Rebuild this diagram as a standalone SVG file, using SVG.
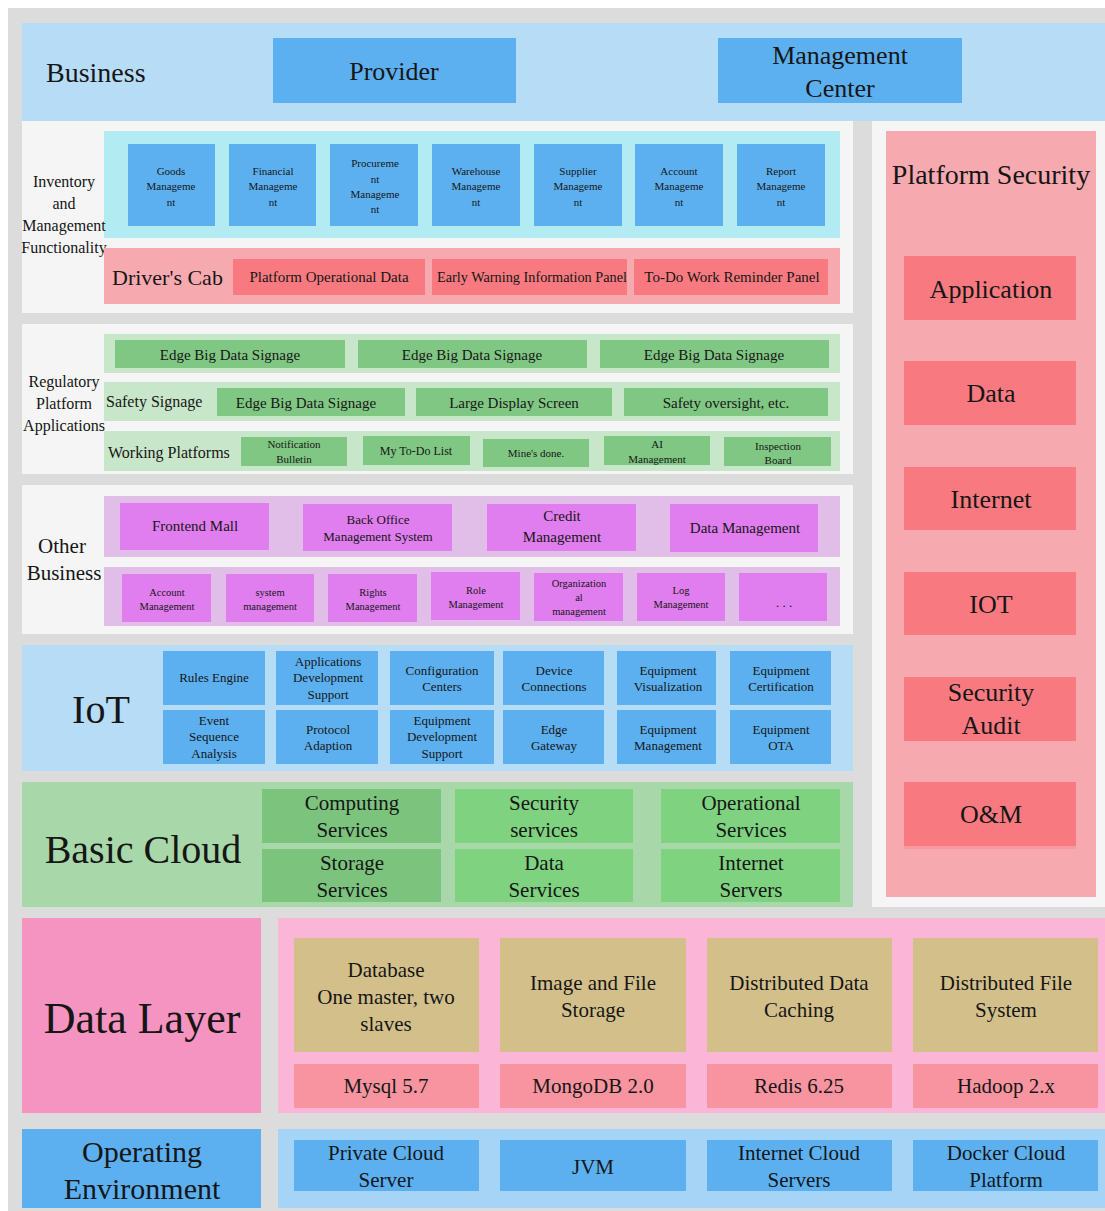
<svg xmlns="http://www.w3.org/2000/svg" width="1105" height="1211" viewBox="0 0 1105 1211" font-family="Liberation Serif, serif">
<style>
text{fill:#161616;}
.c{text-anchor:middle;}
.bg{fill:#dcdcdc;}
.lb{fill:#b6dcf6;}
.bb{fill:#5cb0f0;}
.wp{fill:#f5f5f5;}
.cy{fill:#b2ebf2;}
.pkb{fill:#f7a9b0;}
.pk{fill:#f87a80;}
.gl{fill:#c8e6c9;}
.gb{fill:#81c784;}
.pl{fill:#e1bee7;}
.pm{fill:#e07ef0;}
.cg{fill:#a8d8a9;}
.cd{fill:#7cc47e;}
.cb{fill:#7fd380;}
.dl{fill:#f594c0;}
.dr{fill:#fbb6d7;}
.tan{fill:#d3bf8a;}
.dp{fill:#f8949f;}
.ob{fill:#a6d4f7;}
.s10{font-size:10.5px;}
.s11{font-size:11px;}
.s12{font-size:12px;}
.s13{font-size:13px;}
.s15{font-size:15px;}
.s16{font-size:16px;}
.s21{font-size:21px;}
.s22{font-size:22px;}
.s26{font-size:26px;}
</style>
<rect x="8" y="8" width="1097" height="1203" class="bg"/>

<g id="business">
<rect x="22" y="23" width="1083" height="98" class="lb"/>
<text x="46" y="82" font-family="Liberation Serif, serif" style="font-size:28px">Business</text>
</g>
<g id="provider">
<rect x="273" y="38" width="243" height="65" class="bb"/>
<text x="394" y="80" class="c s26">Provider</text>
</g>
<g id="management-center">
<rect x="718" y="38" width="244" height="65" class="bb"/>
<text x="840" y="64" class="c s26">Management</text>
<text x="840" y="97" class="c s26">Center</text>
</g>

<g id="inventory">
<rect x="22" y="121" width="831" height="192" class="wp"/>
<rect x="104" y="131" width="736" height="107" class="cy"/>
<text class="c s16" x="64" y="187">Inventory</text>
<text class="c s16" x="64" y="209">and</text>
<text class="c s16" x="64" y="231">Management</text>
<text class="c s16" x="64" y="253">Functionality</text>
</g>
<g id="goods"><rect x="128" y="144" width="87" height="82" class="bb"/>
<text class="c s11" x="171" y="175">Goods</text><text class="c s11" x="171" y="190">Manageme</text><text class="c s11" x="171" y="206">nt</text></g>
<g id="financial"><rect x="229" y="144" width="87" height="82" class="bb"/>
<text class="c s11" x="273" y="175">Financial</text><text class="c s11" x="273" y="190">Manageme</text><text class="c s11" x="273" y="206">nt</text></g>
<g id="procurement"><rect x="330" y="144" width="88" height="82" class="bb"/>
<text class="c s11" x="375" y="167">Procureme</text><text class="c s11" x="375" y="183">nt</text><text class="c s11" x="375" y="198">Manageme</text><text class="c s11" x="375" y="213">nt</text></g>
<g id="warehouse"><rect x="432" y="144" width="88" height="82" class="bb"/>
<text class="c s11" x="476" y="175">Warehouse</text><text class="c s11" x="476" y="190">Manageme</text><text class="c s11" x="476" y="206">nt</text></g>
<g id="supplier"><rect x="534" y="144" width="88" height="82" class="bb"/>
<text class="c s11" x="578" y="175">Supplier</text><text class="c s11" x="578" y="190">Manageme</text><text class="c s11" x="578" y="206">nt</text></g>
<g id="account-mgmt"><rect x="635" y="144" width="88" height="82" class="bb"/>
<text class="c s11" x="679" y="175">Account</text><text class="c s11" x="679" y="190">Manageme</text><text class="c s11" x="679" y="206">nt</text></g>
<g id="report"><rect x="737" y="144" width="88" height="82" class="bb"/>
<text class="c s11" x="781" y="175">Report</text><text class="c s11" x="781" y="190">Manageme</text><text class="c s11" x="781" y="206">nt</text></g>

<g id="drivers-cab">
<rect x="104" y="248" width="736" height="56" class="pkb"/>
<text x="112" y="285" class="s22">Driver's Cab</text>
</g>
<g id="platform-operational-data"><rect x="233" y="259" width="192" height="36" class="pk"/>
<text class="c s15" x="329" y="282">Platform Operational Data</text></g>
<g id="early-warning"><rect x="432" y="259" width="195" height="36" class="pk"/>
<text class="c s15" x="532" y="282" textLength="190" lengthAdjust="spacingAndGlyphs">Early Warning Information Panel</text></g>
<g id="todo-panel"><rect x="634" y="259" width="194" height="36" class="pk"/>
<text class="c s15" x="732" y="282">To-Do Work Reminder Panel</text></g>

<g id="platform-security">
<rect x="872" y="121" width="233" height="786" class="wp"/>
<rect x="886" y="131" width="210" height="766" class="pkb"/>
<text class="c" x="991" y="184" style="font-size:28px">Platform Security</text>
</g>
<g id="sec-application"><rect x="904" y="256" width="172" height="64" class="pk"/><text class="c s26" x="991" y="298">Application</text></g>
<g id="sec-data"><rect x="904" y="361" width="172" height="64" class="pk"/><text class="c s26" x="991" y="402">Data</text></g>
<g id="sec-internet"><rect x="904" y="467" width="172" height="63" class="pk"/><text class="c s26" x="991" y="508">Internet</text></g>
<g id="sec-iot"><rect x="904" y="572" width="172" height="63" class="pk"/><text class="c s26" x="991" y="613">IOT</text></g>
<g id="sec-audit"><rect x="904" y="677" width="172" height="64" class="pk"/><text class="c s26" x="991" y="701">Security</text><text class="c s26" x="991" y="734">Audit</text></g>
<g id="sec-om"><rect x="904" y="782" width="172" height="64" class="pk"/><rect x="904" y="846" width="172" height="3" fill="#f49aa0"/><text class="c s26" x="991" y="823">O&amp;M</text></g>

<g id="regulatory">
<rect x="22" y="324" width="831" height="150" class="wp"/>
<rect x="104" y="334" width="736" height="39" class="gl"/>
<rect x="104" y="382" width="736" height="39" class="gl"/>
<rect x="104" y="431" width="736" height="40" class="gl"/>
<text class="c s16" x="64" y="387">Regulatory</text>
<text class="c s16" x="64" y="409">Platform</text>
<text class="c s16" x="64" y="431">Applications</text>
<text class="s16" x="106" y="407">Safety Signage</text>
<text class="s16" x="108" y="458">Working Platforms</text>
</g>
<g id="edge1"><rect x="115" y="340" width="230" height="28" class="gb"/><text class="c s15" x="230" y="360">Edge Big Data Signage</text></g>
<g id="edge2"><rect x="358" y="340" width="229" height="28" class="gb"/><text class="c s15" x="472" y="360">Edge Big Data Signage</text></g>
<g id="edge3"><rect x="600" y="340" width="229" height="28" class="gb"/><text class="c s15" x="714" y="360">Edge Big Data Signage</text></g>
<g id="edge4"><rect x="217" y="388" width="188" height="28" class="gb"/><text class="c s15" x="306" y="408">Edge Big Data Signage</text></g>
<g id="large-display"><rect x="416" y="388" width="196" height="28" class="gb"/><text class="c s15" x="514" y="408">Large Display Screen</text></g>
<g id="safety-oversight"><rect x="624" y="388" width="204" height="28" class="gb"/><text class="c s15" x="726" y="408">Safety oversight, etc.</text></g>
<g id="notification"><rect x="241" y="437" width="106" height="29" class="gb"/><text class="c s11" x="294" y="448">Notification</text><text class="c s11" x="294" y="463">Bulletin</text></g>
<g id="todo-list"><rect x="363" y="436" width="107" height="29" class="gb"/><text class="c s12" x="416" y="455">My To-Do List</text></g>
<g id="mines-done"><rect x="483" y="439" width="106" height="28" class="gb"/><text class="c s11" x="536" y="457">Mine's done.</text></g>
<g id="ai-mgmt"><rect x="604" y="436" width="106" height="29" class="gb"/><text class="c s11" x="657" y="448">AI</text><text class="c s11" x="657" y="463">Management</text></g>
<g id="inspection"><rect x="724" y="437" width="107" height="29" class="gb"/><text class="c s11" x="778" y="450">Inspection</text><text class="c s11" x="778" y="464">Board</text></g>

<g id="other-business">
<rect x="22" y="485" width="831" height="149" class="wp"/>
<rect x="104" y="496" width="736" height="61" class="pl"/>
<rect x="104" y="567" width="736" height="59" class="pl"/>
<text class="c s21" x="62" y="553">Other</text>
<text class="c s21" x="64" y="580">Business</text>
</g>
<g id="frontend-mall"><rect x="120" y="503" width="149" height="47" class="pm"/><text class="c s15" x="195" y="531">Frontend Mall</text></g>
<g id="back-office"><rect x="303" y="504" width="149" height="47" class="pm"/><text class="c s13" x="378" y="524">Back Office</text><text class="c s13" x="378" y="541">Management System</text></g>
<g id="credit"><rect x="487" y="504" width="149" height="47" class="pm"/><text class="c s15" x="562" y="521">Credit</text><text class="c s15" x="562" y="542">Management</text></g>
<g id="data-mgmt"><rect x="670" y="504" width="148" height="48" class="pm"/><text class="c s15" x="745" y="533">Data Management</text></g>
<g id="ob-account"><rect x="122" y="574" width="89" height="48" class="pm"/><text class="c s10" x="167" y="596">Account</text><text class="c s10" x="167" y="610">Management</text></g>
<g id="ob-system"><rect x="226" y="574" width="88" height="48" class="pm"/><text class="c s10" x="270" y="596">system</text><text class="c s10" x="270" y="610">management</text></g>
<g id="ob-rights"><rect x="328" y="574" width="89" height="48" class="pm"/><text class="c s10" x="373" y="596">Rights</text><text class="c s10" x="373" y="610">Management</text></g>
<g id="ob-role"><rect x="431" y="572" width="89" height="48" class="pm"/><text class="c s10" x="476" y="594">Role</text><text class="c s10" x="476" y="608">Management</text></g>
<g id="ob-org"><rect x="534" y="573" width="89" height="48" class="pm"/><text class="c s10" x="579" y="587">Organization</text><text class="c s10" x="579" y="601">al</text><text class="c s10" x="579" y="615">management</text></g>
<g id="ob-log"><rect x="637" y="573" width="88" height="48" class="pm"/><text class="c s10" x="681" y="594">Log</text><text class="c s10" x="681" y="608">Management</text></g>
<g id="ob-more"><rect x="739" y="573" width="88" height="48" class="pm"/><text class="c s13" x="784" y="607">. . .</text></g>

<g id="iot">
<rect x="22" y="645" width="831" height="126" class="lb"/>
<text class="c" x="101" y="723" style="font-size:40px">IoT</text>
</g>
<g id="rules-engine"><rect x="163" y="651" width="102" height="54" class="bb"/><text class="c s13" x="214" y="682">Rules Engine</text></g>
<g id="app-dev"><rect x="276" y="651" width="102" height="54" class="bb"/><text class="c s13" x="328" y="666">Applications</text><text class="c s13" x="328" y="682">Development</text><text class="c s13" x="328" y="699">Support</text></g>
<g id="config"><rect x="390" y="651" width="104" height="54" class="bb"/><text class="c s13" x="442" y="675">Configuration</text><text class="c s13" x="442" y="691">Centers</text></g>
<g id="device-conn"><rect x="503" y="651" width="101" height="54" class="bb"/><text class="c s13" x="554" y="675">Device</text><text class="c s13" x="554" y="691">Connections</text></g>
<g id="equip-vis"><rect x="617" y="651" width="99" height="54" class="bb"/><text class="c s13" x="668" y="675">Equipment</text><text class="c s13" x="668" y="691">Visualization</text></g>
<g id="equip-cert"><rect x="730" y="651" width="101" height="54" class="bb"/><text class="c s13" x="781" y="675">Equipment</text><text class="c s13" x="781" y="691">Certification</text></g>
<g id="event-seq"><rect x="163" y="710" width="102" height="54" class="bb"/><text class="c s13" x="214" y="725">Event</text><text class="c s13" x="214" y="741">Sequence</text><text class="c s13" x="214" y="758">Analysis</text></g>
<g id="protocol"><rect x="276" y="710" width="102" height="54" class="bb"/><text class="c s13" x="328" y="734">Protocol</text><text class="c s13" x="328" y="750">Adaption</text></g>
<g id="equip-dev"><rect x="390" y="710" width="104" height="54" class="bb"/><text class="c s13" x="442" y="725">Equipment</text><text class="c s13" x="442" y="741">Development</text><text class="c s13" x="442" y="758">Support</text></g>
<g id="edge-gw"><rect x="503" y="710" width="101" height="54" class="bb"/><text class="c s13" x="554" y="734">Edge</text><text class="c s13" x="554" y="750">Gateway</text></g>
<g id="equip-mgmt"><rect x="617" y="710" width="99" height="54" class="bb"/><text class="c s13" x="668" y="734">Equipment</text><text class="c s13" x="668" y="750">Management</text></g>
<g id="equip-ota"><rect x="730" y="710" width="101" height="54" class="bb"/><text class="c s13" x="781" y="734">Equipment</text><text class="c s13" x="781" y="750">OTA</text></g>

<g id="basic-cloud">
<rect x="22" y="782" width="831" height="125" class="cg"/>
<text class="c" x="143" y="863" style="font-size:40px">Basic Cloud</text>
</g>
<g id="computing"><rect x="262" y="789" width="179" height="54" class="cd"/><text class="c s21" x="352" y="810">Computing</text><text class="c s21" x="352" y="837">Services</text></g>
<g id="storage"><rect x="262" y="849" width="179" height="53" class="cd"/><text class="c s21" x="352" y="870">Storage</text><text class="c s21" x="352" y="897">Services</text></g>
<g id="security-services"><rect x="455" y="789" width="178" height="54" class="cb"/><text class="c s21" x="544" y="810">Security</text><text class="c s21" x="544" y="837">services</text></g>
<g id="data-services"><rect x="455" y="849" width="178" height="53" class="cb"/><text class="c s21" x="544" y="870">Data</text><text class="c s21" x="544" y="897">Services</text></g>
<g id="operational"><rect x="661" y="789" width="179" height="54" class="cb"/><text class="c s21" x="751" y="810">Operational</text><text class="c s21" x="751" y="837">Services</text></g>
<g id="internet-servers"><rect x="661" y="849" width="179" height="53" class="cb"/><text class="c s21" x="751" y="870">Internet</text><text class="c s21" x="751" y="897">Servers</text></g>

<g id="data-layer">
<rect x="22" y="918" width="239" height="195" class="dl"/>
<rect x="278" y="918" width="827" height="195" class="dr"/>
<text class="c" x="142" y="1033" style="font-size:44px">Data Layer</text>
</g>
<g id="database"><rect x="294" y="938" width="185" height="114" class="tan"/><text class="c s21" x="386" y="977">Database</text><text class="c s21" x="386" y="1004">One master, two</text><text class="c s21" x="386" y="1031">slaves</text></g>
<g id="image-file"><rect x="500" y="938" width="186" height="114" class="tan"/><text class="c s21" x="593" y="990">Image and File</text><text class="c s21" x="593" y="1017">Storage</text></g>
<g id="dist-cache"><rect x="707" y="938" width="185" height="114" class="tan"/><text class="c s21" x="799" y="990">Distributed Data</text><text class="c s21" x="799" y="1017">Caching</text></g>
<g id="dist-fs"><rect x="913" y="938" width="185" height="114" class="tan"/><text class="c s21" x="1006" y="990">Distributed File</text><text class="c s21" x="1006" y="1017">System</text></g>
<g id="mysql"><rect x="294" y="1064" width="185" height="44" class="dp"/><text class="c s21" x="386" y="1093">Mysql 5.7</text></g>
<g id="mongodb"><rect x="500" y="1064" width="186" height="44" class="dp"/><text class="c s21" x="593" y="1093">MongoDB 2.0</text></g>
<g id="redis"><rect x="707" y="1064" width="185" height="44" class="dp"/><text class="c s21" x="799" y="1093">Redis 6.25</text></g>
<g id="hadoop"><rect x="913" y="1064" width="185" height="44" class="dp"/><text class="c s21" x="1006" y="1093">Hadoop 2.x</text></g>

<g id="operating-environment">
<rect x="22" y="1129" width="239" height="79" class="bb"/>
<rect x="278" y="1129" width="827" height="79" class="ob"/>
<text class="c" x="142" y="1162" style="font-size:30px">Operating</text>
<text class="c" x="142" y="1199" style="font-size:30px">Environment</text>
</g>
<g id="private-cloud"><rect x="294" y="1140" width="185" height="51" class="bb"/><text class="c s21" x="386" y="1160">Private Cloud</text><text class="c s21" x="386" y="1187">Server</text></g>
<g id="jvm"><rect x="500" y="1140" width="186" height="51" class="bb"/><text class="c s21" x="593" y="1174">JVM</text></g>
<g id="internet-cloud"><rect x="707" y="1140" width="185" height="51" class="bb"/><text class="c s21" x="799" y="1160">Internet Cloud</text><text class="c s21" x="799" y="1187">Servers</text></g>
<g id="docker"><rect x="913" y="1140" width="185" height="51" class="bb"/><text class="c s21" x="1006" y="1160">Docker Cloud</text><text class="c s21" x="1006" y="1187">Platform</text></g>

<g id="connectors"></g>
</svg>
